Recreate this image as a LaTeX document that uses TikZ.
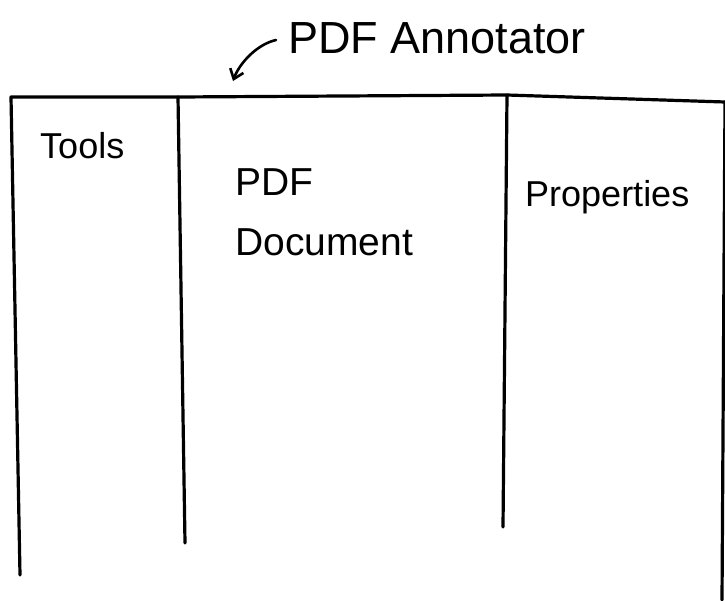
\documentclass[tikz,border=0pt]{standalone}
\usepackage{fontspec}
\setmainfont{Liberation Sans}
\usetikzlibrary{arrows.meta}
\begin{document}
\begin{tikzpicture}[x=1pt,y=-1pt,
  pen/.style={line width=3.2pt,line cap=round,line join=round,black},
  label/.style={font=\fontsize{36}{42}\selectfont,inner sep=0pt,anchor=north west,align=left}]
  \useasboundingbox[fill=white] (0,0) rectangle (725,600);
  % outer frame corners and column dividers
  \coordinate (tl) at (11,97);
  \coordinate (bl) at (20,575);
  \coordinate (tr) at (725,102);
  \coordinate (br) at (722,600);
  \coordinate (d1t) at (178,97);
  \coordinate (d1b) at (185,543);
  \coordinate (d2t) at (507,95);
  \coordinate (d2b) at (503,527);
  \draw[pen] (bl) -- (tl) -- (d1t) -- (d2t) -- (tr);
  \draw[pen] (tr) -- (br);
  \draw[pen] (d1t) -- (d1b);
  \draw[pen] (d2t) -- (d2b);
  % title with pointer to the window
  \node[font=\fontsize{45}{50}\selectfont,inner sep=0pt,anchor=west] (title) at (288,38) {PDF Annotator};
  \coordinate (tip) at (233,81);
  \draw[pen,line width=2.6pt,-{Straight Barb[length=9pt,width=14pt]}] (title.west) ++(-12,2) coordinate (tail)
    .. controls (258,44) and (240,62) .. (tip);
  % panel labels
  \node[label] (tools) at (40,132) {Tools};
  \node[label,font=\fontsize{39}{46}\selectfont] (doc) at (235,168) {PDF\\[14pt]Document};
  \node[label] (props) at (525,180) {Properties};
\end{tikzpicture}
\end{document}
